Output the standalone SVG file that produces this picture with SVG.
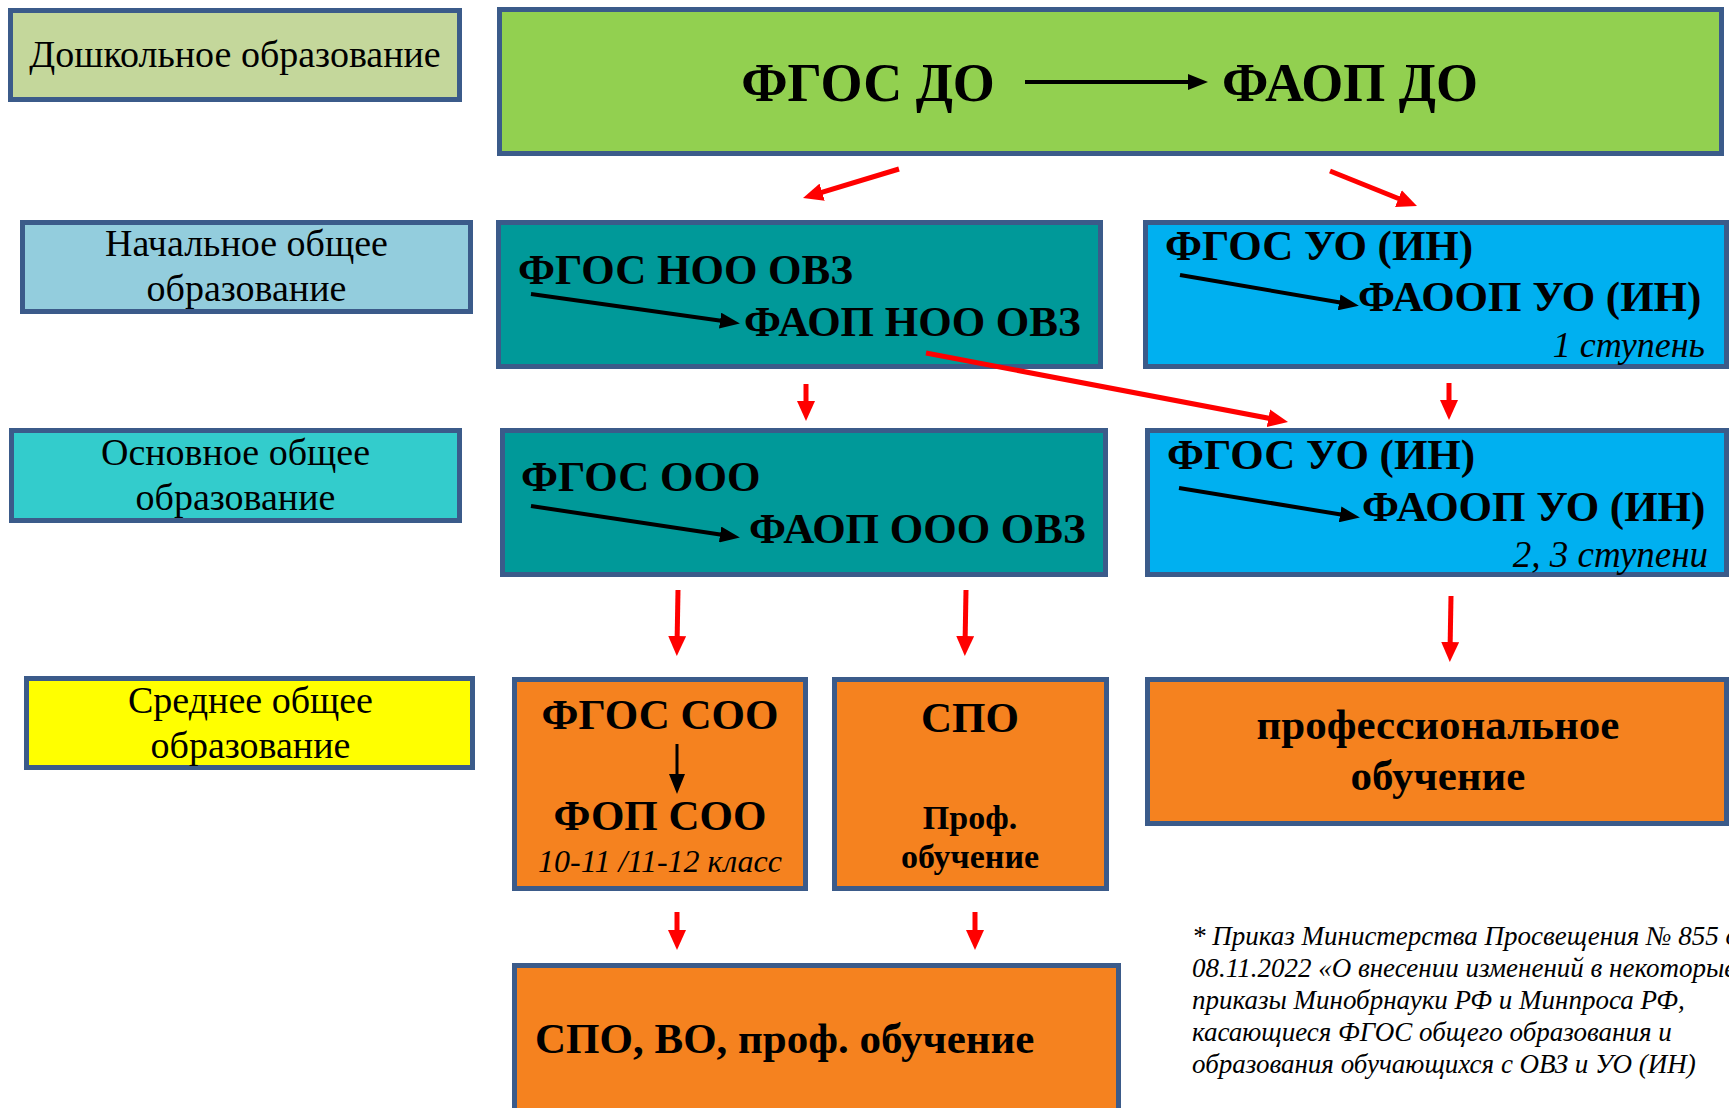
<svg xmlns="http://www.w3.org/2000/svg" width="1729" height="1108" viewBox="0 0 1729 1108">
<style>
.box{stroke:#3B5B8A;stroke-width:5}
.lbl{font-family:"Liberation Serif","Times New Roman",serif;font-size:38px;fill:#000;text-anchor:middle}
.b{font-family:"Liberation Serif","Times New Roman",serif;font-weight:bold;fill:#000}
.it{font-family:"Liberation Serif","Times New Roman",serif;font-style:italic;fill:#000}
.red{stroke:#FF0000;stroke-width:5;fill:none;marker-end:url(#rh)}
.blk{stroke:#000;stroke-width:4;fill:none;marker-end:url(#bh)}
</style>
<defs>
<marker id="rh" markerUnits="userSpaceOnUse" markerWidth="20" markerHeight="18" viewBox="0 0 20 18" refX="10" refY="9" orient="auto"><path d="M0,0 L20,9 L0,18 Z" fill="#FF0000"/></marker>
<marker id="bh" markerUnits="userSpaceOnUse" markerWidth="20" markerHeight="16" viewBox="0 0 20 16" refX="10" refY="8" orient="auto"><path d="M0,0 L20,8 L0,16 Z" fill="#000"/></marker>
</defs>
<rect width="1729" height="1108" fill="#FFFFFF"/>

<g id="level-preschool">
<rect class="box" x="10.5" y="10.5" width="449" height="89" fill="#C4D79B"/>
<text class="lbl" x="235" y="67">Дошкольное образование</text>
</g>
<g id="level-primary">
<rect class="box" x="22.5" y="222.5" width="448" height="89" fill="#93CDDD"/>
<text class="lbl" x="246.5" y="256">Начальное общее</text>
<text class="lbl" x="246.5" y="301">образование</text>
</g>
<g id="level-basic">
<rect class="box" x="11.5" y="430.5" width="448" height="90" fill="#33CCCC"/>
<text class="lbl" x="235.5" y="465">Основное общее</text>
<text class="lbl" x="235.5" y="510">образование</text>
</g>
<g id="level-secondary">
<rect class="box" x="26.5" y="678.5" width="446" height="89" fill="#FFFF00"/>
<text class="lbl" x="250.5" y="713">Среднее общее</text>
<text class="lbl" x="250.5" y="758">образование</text>
</g>

<g id="node-do">
<rect class="box" x="499.5" y="9.5" width="1222" height="144" fill="#92D050"/>
<text class="b" x="868" y="101" font-size="54" text-anchor="middle">ФГОС ДО</text>
<text class="b" x="1350" y="101" font-size="54" text-anchor="middle">ФАОП ДО</text>
<line class="blk" x1="1025" y1="82" x2="1198" y2="82"/>
</g>

<g id="node-noo">
<rect class="box" x="498.5" y="222.5" width="602" height="144" fill="#009999"/>
<text class="b" x="518" y="284" font-size="43">ФГОС НОО ОВЗ</text>
<text class="b" x="744" y="336" font-size="43">ФАОП НОО ОВЗ</text>
<line class="blk" x1="531" y1="294" x2="730" y2="322"/>
</g>

<g id="node-uo1">
<rect class="box" x="1145.5" y="222.5" width="581" height="144" fill="#00B0F0"/>
<text class="b" x="1165" y="260" font-size="43">ФГОС УО (ИН)</text>
<text class="b" x="1358" y="311" font-size="43">ФАООП УО (ИН)</text>
<text class="it" x="1705" y="357" font-size="36" text-anchor="end">1 ступень</text>
<line class="blk" x1="1180" y1="275" x2="1349" y2="304"/>
</g>

<g id="node-ooo">
<rect class="box" x="502.5" y="430.5" width="603" height="144" fill="#009999"/>
<text class="b" x="521" y="491" font-size="43">ФГОС ООО</text>
<text class="b" x="749" y="543" font-size="43">ФАОП ООО ОВЗ</text>
<line class="blk" x1="531" y1="506" x2="730" y2="536"/>
</g>

<g id="node-uo2">
<rect class="box" x="1147.5" y="430.5" width="579" height="144" fill="#00B0F0"/>
<text class="b" x="1167" y="469" font-size="43">ФГОС УО (ИН)</text>
<text class="b" x="1362" y="521" font-size="43">ФАООП УО (ИН)</text>
<text class="it" x="1708" y="567" font-size="37" text-anchor="end">2, 3 ступени</text>
<line class="blk" x1="1179" y1="488" x2="1350" y2="516"/>
</g>

<g id="node-soo">
<rect class="box" x="514.5" y="679.5" width="291" height="209" fill="#F5821F"/>
<text class="b" x="660" y="729" font-size="43" text-anchor="middle">ФГОС СОО</text>
<line class="blk" x1="677" y1="744" x2="677" y2="784" style="stroke-width:3"/>
<text class="b" x="660" y="830" font-size="43" text-anchor="middle">ФОП СОО</text>
<text class="it" x="660" y="872" font-size="32" text-anchor="middle">10-11 /11-12 класс</text>
</g>

<g id="node-spo">
<rect class="box" x="834.5" y="679.5" width="272" height="209" fill="#F5821F"/>
<text class="b" x="970" y="732" font-size="43" text-anchor="middle">СПО</text>
<text class="b" x="970" y="829" font-size="34" text-anchor="middle">Проф.</text>
<text class="b" x="970" y="868" font-size="34" text-anchor="middle">обучение</text>
</g>

<g id="node-prof">
<rect class="box" x="1147.5" y="679.5" width="579" height="144" fill="#F5821F"/>
<text class="b" x="1438" y="739" font-size="43" text-anchor="middle">профессиональное</text>
<text class="b" x="1438" y="790" font-size="43" text-anchor="middle">обучение</text>
</g>

<g id="node-final">
<rect class="box" x="514.5" y="965.5" width="604" height="170" fill="#F5821F"/>
<text class="b" x="535" y="1053" font-size="43">СПО, ВО, проф. обучение</text>
</g>

<g id="footnote">
<text class="it" x="1192" y="945" font-size="27">* Приказ Министерства Просвещения № 855 от</text>
<text class="it" x="1192" y="977" font-size="27">08.11.2022 «О внесении изменений в некоторые</text>
<text class="it" x="1192" y="1009" font-size="27">приказы Минобрнауки РФ и Минпроса РФ,</text>
<text class="it" x="1192" y="1041" font-size="27">касающиеся ФГОС общего образования и</text>
<text class="it" x="1192" y="1073" font-size="27">образования обучающихся с ОВЗ и УО (ИН)</text>
</g>

<g id="connectors">
<line class="red" x1="899" y1="169" x2="812.6" y2="195.1"/>
<line class="red" x1="1330" y1="171" x2="1407.7" y2="202.3"/>
<line class="red" x1="806" y1="384" x2="806" y2="411"/>
<line class="red" x1="926" y1="353" x2="1278.2" y2="420.1"/>
<line class="red" x1="1449" y1="383" x2="1449" y2="410"/>
<line class="red" x1="678" y1="590" x2="677" y2="646"/>
<line class="red" x1="966" y1="590" x2="965" y2="646"/>
<line class="red" x1="1451" y1="596" x2="1450" y2="652"/>
<line class="red" x1="677" y1="912" x2="677" y2="940"/>
<line class="red" x1="975" y1="912" x2="975" y2="940"/>
</g>
</svg>
